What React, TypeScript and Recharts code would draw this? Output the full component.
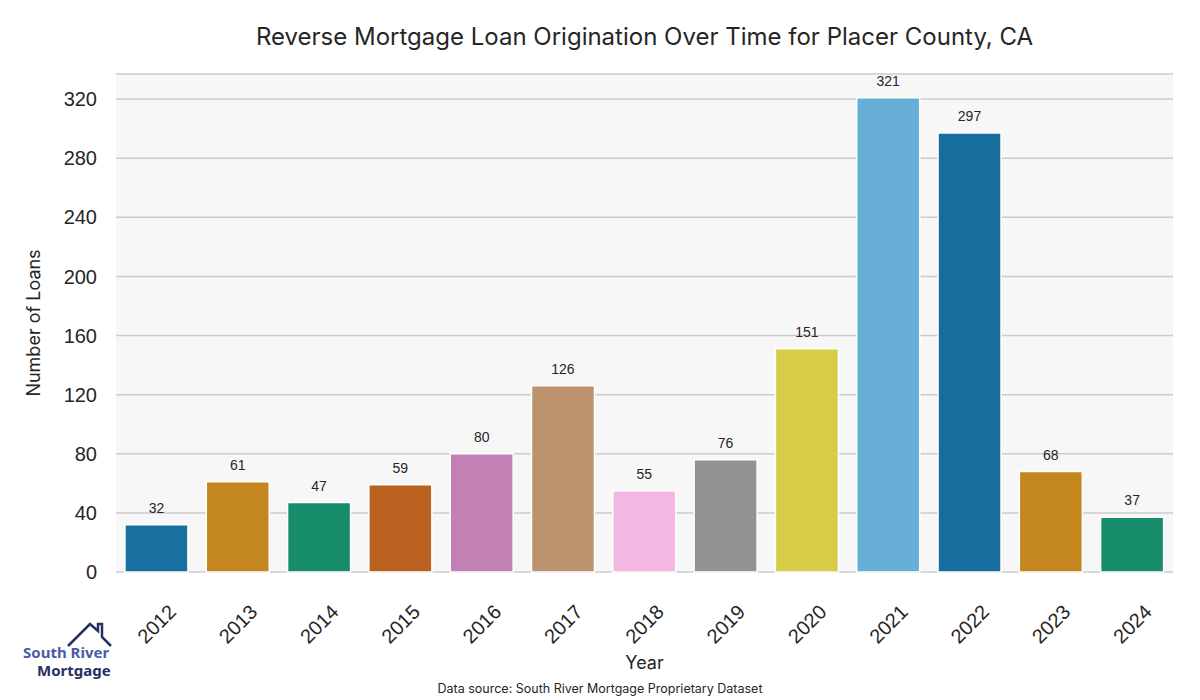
import { BarChart, Bar, XAxis, YAxis, CartesianGrid, Cell, LabelList } from "recharts"

const years = ["2012", "2013", "2014", "2015", "2016", "2017", "2018", "2019", "2020", "2021", "2022", "2023", "2024"]
const loans = [32, 61, 47, 59, 80, 126, 55, 76, 151, 321, 297, 68, 37]
const barColors = [
  "#1a6fa1", "#c4871f", "#168c6a", "#b9611e", "#c281b5", "#bc936e", "#f2b8e2",
  "#939393", "#d6cc46", "#67afd7", "#176e9e", "#c4871f", "#168c6a",
]
const yTicks = [0, 40, 80, 120, 160, 200, 240, 280, 320]

const data = years.map((year, i) => ({ year, loans: loans[i] }))

const tickFont = "'Liberation Sans', Arial, sans-serif"

function YearTick(props: any) {
  const { x, y, payload } = props
  const cy = y + 44
  return (
    <text
      x={x}
      y={cy}
      dy={7}
      textAnchor="middle"
      fontSize={20}
      fill="#262626"
      fontFamily={tickFont}
      transform={`rotate(-45, ${x}, ${cy})`}
    >
      {payload.value}
    </text>
  )
}

function Logo() {
  return (
    <svg width={140} height={80} style={{ position: "absolute", left: 0, top: 620 }}>
      <polyline points="68,26 90,4 98,11 98,4 102,4 102,17 111,26" fill="none" stroke="#263063" strokeWidth={2.5} />
      <text x={23} y={38} fontSize={15} fontWeight={700} fill="#4a5ba8" fontFamily="'Noto Sans', sans-serif">
        South River
      </text>
      <text x={37} y={56} fontSize={15} fontWeight={700} fill="#263063" fontFamily="'Noto Sans', sans-serif">
        Mortgage
      </text>
    </svg>
  )
}

export default function App() {
  return (
    <div style={{ position: "absolute", left: 0, top: 0, width: 1200, height: 700, background: "#fff" }}>
      <div
        style={{
          position: "absolute",
          left: 0,
          width: 1289,
          top: 22,
          textAlign: "center",
          fontFamily: "Inter, sans-serif",
          fontSize: 24,
          color: "#262626",
        }}
      >
        Reverse Mortgage Loan Origination Over Time for Placer County, CA
      </div>
      <BarChart
        width={1200}
        height={700}
        data={data}
        margin={{ top: 74, right: 27, bottom: 38, left: 56 }}
        barCategoryGap="11%"
      >
        <CartesianGrid vertical={false} stroke="#cccccc" strokeWidth={1.5} fill="#f7f7f7" />
        <XAxis
          dataKey="year"
          axisLine={false}
          tickLine={false}
          height={90}
          tick={<YearTick />}
          interval={0}
          label={{ value: "Year", position: "insideBottom", offset: -7, fontSize: 18, fill: "#262626", fontFamily: "Inter, sans-serif" }}
        />
        <YAxis
          domain={[0, 337]}
          ticks={yTicks}
          axisLine={false}
          tickLine={false}
          tickSize={0}
          tickMargin={19}
          width={60}
          tick={{ fontSize: 20, fill: "#262626", fontFamily: tickFont }}
          label={{
            value: "Number of Loans",
            angle: -90,
            position: "insideLeft",
            offset: -22,
            style: { textAnchor: "middle" },
            fontSize: 18,
            fill: "#262626",
            fontFamily: "Inter, sans-serif",
          }}
        />
        <Bar dataKey="loans" isAnimationActive={false} stroke="#ffffff" strokeWidth={1.5}>
          {data.map((d, i) => (
            <Cell key={d.year} fill={barColors[i]} />
          ))}
          <LabelList dataKey="loans" position="top" offset={12} fontSize={14} fill="#262626" fontFamily={tickFont} />
        </Bar>
      </BarChart>
      <Logo />
      <div
        style={{
          position: "absolute",
          left: 0,
          width: 1200,
          top: 681,
          textAlign: "center",
          fontFamily: "Inter, sans-serif",
          fontSize: 12.5,
          color: "#262626",
        }}
      >
        Data source: South River Mortgage Proprietary Dataset
      </div>
    </div>
  )
}
